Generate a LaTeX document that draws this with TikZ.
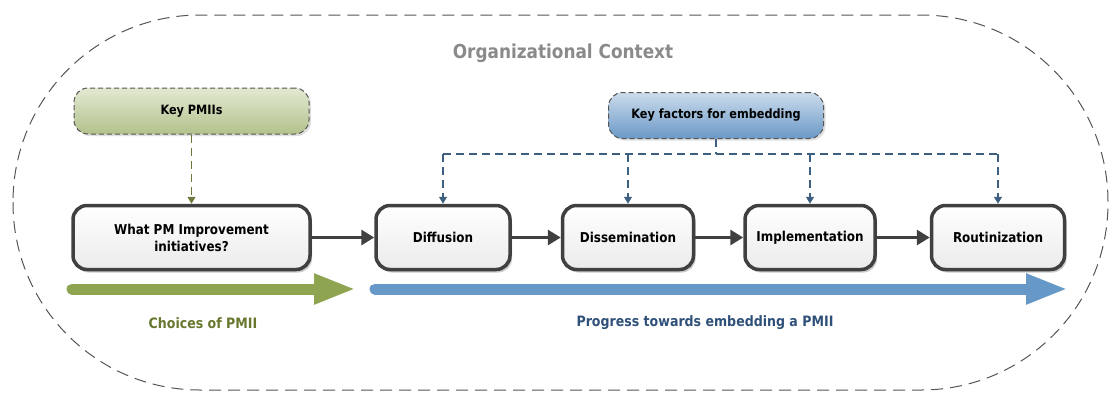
\documentclass[tikz,border=0pt]{standalone}
\usepackage{fontspec}
\setmainfont[FakeStretch=0.88]{DejaVu Sans}
\usetikzlibrary{arrows.meta,shadows,positioning}
\definecolor{boxline}{HTML}{404040}
\definecolor{outerline}{HTML}{555555}
\definecolor{greentop}{HTML}{E2E9D2}
\definecolor{greenbot}{HTML}{B3C28C}
\definecolor{bluetop}{HTML}{CCDCEC}
\definecolor{bluebot}{HTML}{6A98C7}
\definecolor{greenarrow}{HTML}{8EA450}
\definecolor{bluearrow}{HTML}{6699C8}
\definecolor{greentext}{HTML}{66782E}
\definecolor{bluetext}{HTML}{2F5078}
\definecolor{bluedash}{HTML}{3E6080}
\definecolor{greendash}{HTML}{6B7A3A}
\definecolor{titlegray}{HTML}{8A8A8A}
\tikzset{
  stagebox/.style={draw=boxline, line width=3.5pt, rounded corners=14pt,
    top color=white, bottom color=black!8, align=center,
    font=\fontsize{13.6}{17}\selectfont\bfseries, inner sep=2pt,
    minimum height=64pt,
    drop shadow={shadow xshift=2pt, shadow yshift=-3pt, opacity=0.35, fill=black!60}},
  keybox/.style={draw=outerline, line width=1pt, dash pattern=on 5pt off 3pt,
    rounded corners=14pt, align=center,
    font=\fontsize{12.8}{15}\selectfont\bfseries, minimum height=46pt,
    drop shadow={shadow xshift=2pt, shadow yshift=-2pt, opacity=0.25, fill=black!50}},
  flowarrow/.style={draw=boxline, line width=3pt, -{Triangle[length=13pt,width=15pt]}},
  factorline/.style={draw=bluedash, line width=1.3pt, dash pattern=on 8pt off 5pt},
  factorarrow/.style={factorline, -{Triangle[length=7pt,width=8pt]}},
  bigarrow/.style={line width=11pt, line cap=round, -{Triangle[length=42pt,width=28pt]}},
  caption/.style={font=\fontsize{14.3}{17}\selectfont\bfseries}
}
\begin{document}
\begin{tikzpicture}[x=1pt,y=-1pt]
\useasboundingbox (0,0) rectangle (1110,392);
% outer organizational context
\draw[outerline, line width=1pt, dash pattern=on 12pt off 7pt, rounded corners=187pt]
  (13,15) rectangle (1108,390);
\node[text=titlegray, font=\fontsize{19.2}{23}\selectfont\bfseries] (title) at (563,53) {Organizational Context};

% key boxes
\node[keybox, minimum width=235pt, top color=greentop, bottom color=greenbot] (kp) at (191.5,111) {Key PMIIs};
\node[keybox, minimum width=215pt, top color=bluetop, bottom color=bluebot] (kf) at (716,115.5) {Key factors for embedding};

% stage boxes
\node[stagebox, minimum width=237pt] (what) at (191.5,237.5) {What PM Improvement\\initiatives?};
\node[stagebox, minimum width=134pt] (diff) at (443,237.5) {Diffusion};
\node[stagebox, minimum width=131pt] (diss) at (628,237.5) {Dissemination};
\node[stagebox, minimum width=130pt] (impl) at (810,237.5) {Implementation};
\node[stagebox, minimum width=133pt] (rout) at (998,237.5) {Routinization};

% flow arrows
\draw[flowarrow] (what) -- (diff);
\draw[flowarrow] (diff) -- (diss);
\draw[flowarrow] (diss) -- (impl);
\draw[flowarrow] (impl) -- (rout);

% key PMIIs connector
\draw[draw=greendash, line width=1.3pt, dash pattern=on 8pt off 5pt, -{Triangle[length=7pt,width=8pt]}] (kp) -- (what);

% key factors connectors
\coordinate (busmid) at (716,154);
\coordinate (busL) at (443,154);
\coordinate (busR) at (998,154);
\draw[factorline] (kf.south) -- (busmid);
\draw[factorline] (busL) -- (busR);
\draw[factorarrow] (busL) -- (diff.north);
\draw[factorarrow] (diss.north |- busmid) -- (diss.north);
\draw[factorarrow] (impl.north |- busmid) -- (impl.north);
\draw[factorarrow] (busR) -- (rout.north);

% progress arrows
\coordinate (gA) at (72,289);
\coordinate (gB) at (356,289);
\coordinate (bA) at (375,289);
\coordinate (bB) at (1068,289);
\draw[bigarrow, greenarrow] (gA) -- (gB);
\draw[bigarrow, bluearrow] (bA) -- (bB);

\node[caption, text=greentext] (choices) at (203,323) {Choices of PMII};
\node[caption, text=bluetext] (progress) at (705,323) {Progress towards embedding a PMII};
\end{tikzpicture}
\end{document}
